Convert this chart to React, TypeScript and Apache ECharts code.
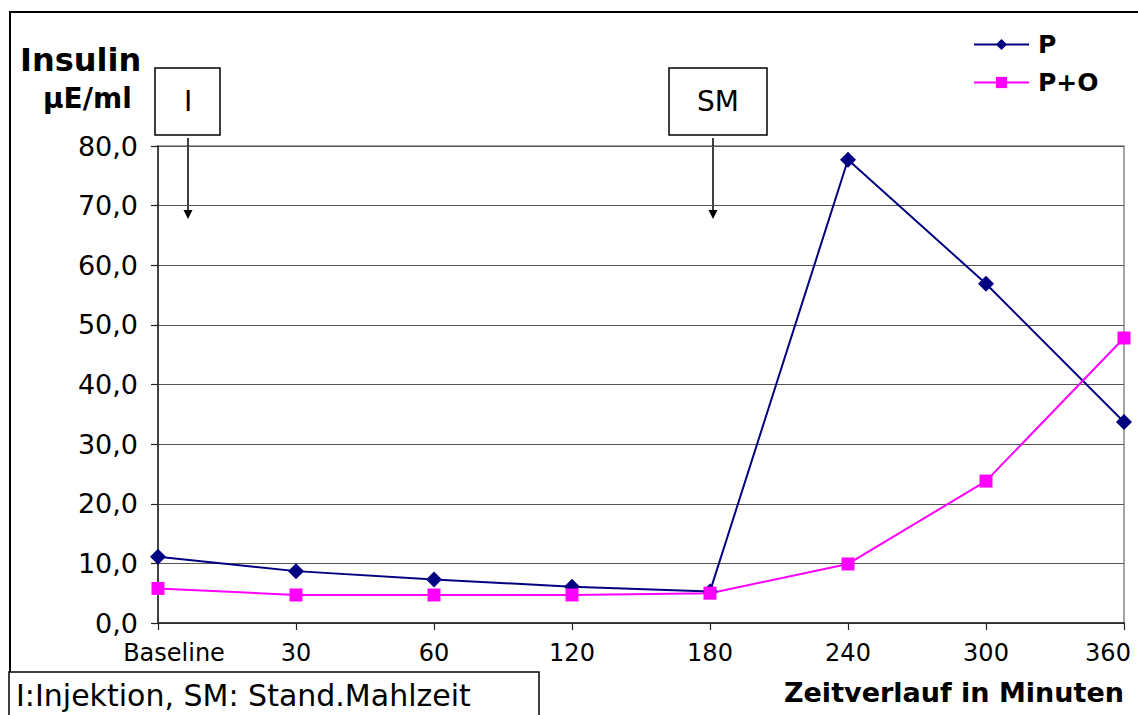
import React, { useEffect, useRef } from "react";
import * as echarts from "echarts";

const categories = ["Baseline", "30", "60", "120", "180", "240", "300", "360"];
const seriesP = [11.1, 8.7, 7.3, 6.1, 5.3, 77.7, 56.9, 33.7];
const seriesPO = [5.8, 4.7, 4.7, 4.7, 5.0, 9.9, 23.8, 47.8];
const seriesNames = ["P", "P+O"];
const yTicks = { min: 0, max: 80, interval: 10 };

const FONT = "DejaVu Sans";

export default function App() {
  const ref = useRef<HTMLDivElement>(null);
  useEffect(() => {
    if (!ref.current) return;
    const chart = echarts.init(ref.current, undefined, { renderer: "svg" });
    const arrow = (x: number) => [
      {
        type: "line",
        shape: { x1: x, y1: 138, x2: x, y2: 212 },
        style: { stroke: "#000", lineWidth: 1.5 },
      },
      {
        type: "polygon",
        shape: { points: [[x - 4.5, 210], [x + 4.5, 210], [x, 219]] },
        style: { fill: "#000" },
      },
    ];
    const last = categories[categories.length - 1];
    chart.setOption({
      animation: false,
      backgroundColor: "#fff",
      grid: {
        left: 158,
        right: 14,
        top: 146,
        bottom: 92,
        containLabel: false,
        outerBoundsMode: "none",
        show: true,
        borderColor: "#888",
        borderWidth: 1.5,
        backgroundColor: "transparent",
      },
      legend: {
        orient: "vertical",
        left: 973,
        top: 32,
        padding: 0,
        itemWidth: 55,
        itemHeight: 14,
        itemGap: 13,
        data: seriesNames,
        textStyle: {
          fontFamily: FONT,
          fontWeight: "bold",
          fontSize: 25,
          color: "#000",
          padding: [0, 0, 0, 4],
        },
      },
      xAxis: {
        type: "category",
        data: categories,
        boundaryGap: false,
        axisLine: { lineStyle: { color: "#222", width: 1.5 } },
        axisTick: { show: true, interval: 0, length: 7, inside: false, lineStyle: { color: "#222", width: 1.2 } },
        axisLabel: {
          interval: 0,
          hideOverlap: false,
          color: "#000",
          fontFamily: FONT,
          fontSize: 24,
          margin: 18,
          formatter: (v: string) =>
            v === categories[0] ? "{b|" + v + "}" : v === last ? "{e|" + v + "}" : v,
          rich: {
            b: { fontFamily: FONT, fontSize: 24, color: "#000", padding: [0, 0, 0, 32] },
            e: { fontFamily: FONT, fontSize: 24, color: "#000", padding: [0, 32, 0, 0] },
          },
        },
        splitLine: { show: false },
      },
      yAxis: {
        type: "value",
        min: yTicks.min,
        max: yTicks.max,
        interval: yTicks.interval,
        axisLine: { show: true, lineStyle: { color: "#222", width: 1.5 } },
        axisTick: { show: true, length: 7, lineStyle: { color: "#222", width: 1.2 } },
        axisLabel: {
          color: "#000",
          fontFamily: FONT,
          fontSize: 27,
          margin: 20,
          padding: [8, 0, 0, 0],
          formatter: (v: number) => v.toFixed(1).replace(".", ","),
        },
        splitLine: { show: true, lineStyle: { color: "#555", width: 1.2 } },
      },
      series: [
        {
          name: seriesNames[0],
          type: "line",
          data: seriesP,
          color: "#000080",
          symbol: "diamond",
          symbolSize: 16,
          lineStyle: { color: "#000080", width: 2 },
          itemStyle: { color: "#000080" },
        },
        {
          name: seriesNames[1],
          type: "line",
          data: seriesPO,
          color: "#FF00FF",
          symbol: "rect",
          symbolSize: 13,
          lineStyle: { color: "#FF00FF", width: 2 },
          itemStyle: { color: "#FF00FF" },
        },
      ],
      graphic: [
        {
          type: "polyline",
          shape: { points: [[10, 715], [10, 12], [1138, 12]] },
          style: { stroke: "#000", lineWidth: 2, fill: null },
        },
        {
          type: "text",
          x: 20,
          y: 60,
          style: {
            text: "Insulin",
            fontFamily: FONT,
            fontWeight: "bold",
            fontSize: 32,
            fill: "#000",
            verticalAlign: "middle",
          },
        },
        {
          type: "text",
          x: 43,
          y: 98,
          style: {
            text: "µE/ml",
            fontFamily: FONT,
            fontWeight: "bold",
            fontSize: 28,
            fill: "#000",
            verticalAlign: "middle",
          },
        },
        {
          type: "rect",
          shape: { x: 155, y: 68, width: 65, height: 67 },
          style: { stroke: "#000", lineWidth: 1.5, fill: "#fff" },
        },
        {
          type: "text",
          x: 188,
          y: 101,
          style: {
            text: "I",
            fontFamily: FONT,
            fontSize: 28,
            fill: "#000",
            align: "center",
            verticalAlign: "middle",
          },
        },
        {
          type: "rect",
          shape: { x: 669, y: 68, width: 98, height: 67 },
          style: { stroke: "#000", lineWidth: 1.5, fill: "#fff" },
        },
        {
          type: "text",
          x: 718,
          y: 101,
          style: {
            text: "SM",
            fontFamily: FONT,
            fontSize: 28,
            fill: "#000",
            align: "center",
            verticalAlign: "middle",
          },
        },
        ...arrow(188),
        ...arrow(713),
        {
          type: "rect",
          shape: { x: 9, y: 672, width: 530, height: 60 },
          style: { stroke: "#000", lineWidth: 1.5, fill: "#fff" },
        },
        {
          type: "text",
          x: 16,
          y: 695,
          style: {
            text: "I:Injektion, SM: Stand.Mahlzeit",
            fontFamily: FONT,
            fontSize: 30,
            fill: "#000",
            verticalAlign: "middle",
          },
        },
        {
          type: "text",
          x: 1124,
          y: 692,
          style: {
            text: "Zeitverlauf in Minuten",
            fontFamily: FONT,
            fontWeight: "bold",
            fontSize: 27,
            fill: "#000",
            align: "right",
            verticalAlign: "middle",
          },
        },
      ],
    });
    return () => chart.dispose();
  }, []);
  return (
    <div
      ref={ref}
      style={{ position: "fixed", left: 0, top: 0, width: 1138, height: 715 }}
    />
  );
}
